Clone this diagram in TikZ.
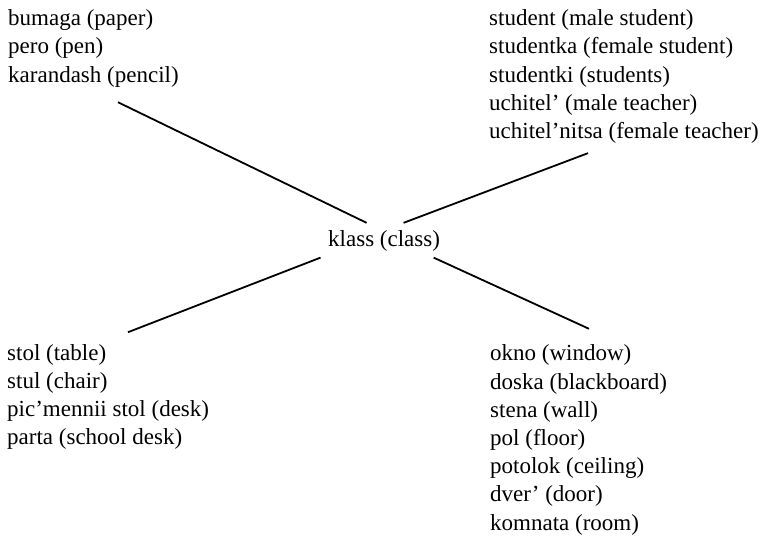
\documentclass[tikz,border=0pt]{standalone}
\usepackage{fontspec}
\setmainfont{Liberation Serif}
\usetikzlibrary{positioning, calc}

\begin{document}
\begin{tikzpicture}[
  x=1pt, y=-1pt,
  words/.style={align=left, anchor=north west, inner sep=0pt, font=\fontsize{23}{28.2}\selectfont},
  link/.style={line width=1.8pt}
]
\useasboundingbox (0,0) rectangle (769,540);
\node[words, anchor=base west] (klass) at (328,247) {klass (class)};
\node[words] (supplies) at (8,9.6) {bumaga (paper)\\pero (pen)\\karandash (pencil)};
\node[words] (people) at (489,9.6) {student (male student)\\studentka (female student)\\studentki (students)\\uchitel' (male teacher)\\uchitel'nitsa (female teacher)};
\node[words] (furniture) at (7,344.2) {stol (table)\\stul (chair)\\pic'mennii stol (desk)\\parta (school desk)};
\node[words] (room) at (490,344.8) {okno (window)\\doska (blackboard)\\stena (wall)\\pol (floor)\\potolok (ceiling)\\dver' (door)\\komnata (room)};

\draw[link] ($(supplies.south west)+(110,15)$) -- ($(klass.north)+(-17.5,-8)$);
\draw[link] ($(klass.north)+(19.5,-8)$) -- ($(people.south west)+(99,9.5)$);
\draw[link] ($(furniture.north west)+(121,-12)$) -- ($(klass.south)+(-63.5,5.5)$);
\draw[link] ($(klass.south)+(49.5,5.5)$) -- ($(room.north west)+(99,-16)$);
\end{tikzpicture}
\end{document}
